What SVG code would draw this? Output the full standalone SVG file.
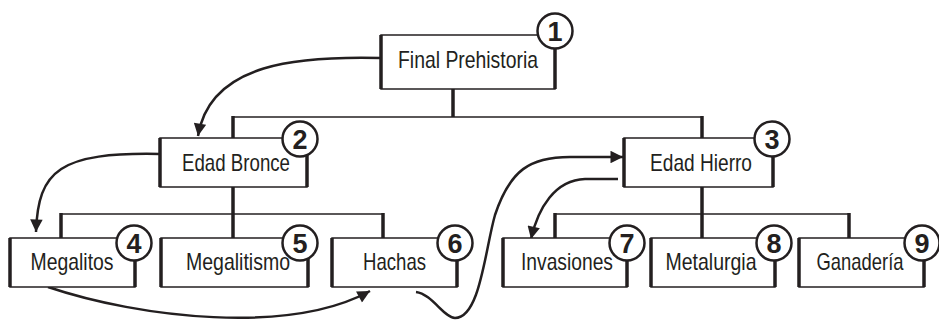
<svg xmlns="http://www.w3.org/2000/svg" width="939" height="320" viewBox="0 0 939 320">
<defs>
<style>
.box{fill:#fff;stroke:#231f20;stroke-width:1.5}
.side{stroke:#231f20;stroke-width:3.5}
.lbl{font-family:"Liberation Sans",Arial,sans-serif;font-size:24px;fill:#231f20;text-anchor:middle}
.num{font-family:"Liberation Sans",Arial,sans-serif;font-size:27px;font-weight:bold;fill:#231f20;text-anchor:middle}
.circ{fill:#fff;stroke:#231f20;stroke-width:2.5}
.v{stroke:#231f20;stroke-width:3.5;fill:none}
.h{stroke:#231f20;stroke-width:1.5;fill:none}
.arr{stroke:#231f20;stroke-width:2.5;fill:none;marker-end:url(#ah)}
</style>
<marker id="ah" viewBox="0 0 10 10" refX="10" refY="5" markerWidth="5.5" markerHeight="5" markerUnits="strokeWidth" orient="auto">
<path d="M0,0 L10,5 L0,10 Z" fill="#231f20"/>
</marker>
</defs>
<g id="connectors">
<line class="v" x1="453" y1="89" x2="453" y2="117"/>
<line class="h" x1="232" y1="117" x2="703" y2="117"/>
<line class="v" x1="233" y1="116" x2="233" y2="138"/>
<line class="v" x1="702" y1="116" x2="702" y2="138"/>
<line class="v" x1="233" y1="187" x2="233" y2="238"/>
<line class="h" x1="60" y1="214" x2="384" y2="214"/>
<line class="v" x1="61" y1="213" x2="61" y2="238"/>
<line class="v" x1="383" y1="213" x2="383" y2="238"/>
<line class="v" x1="702" y1="187" x2="702" y2="238"/>
<line class="h" x1="554" y1="214" x2="850" y2="214"/>
<line class="v" x1="555" y1="213" x2="555" y2="238"/>
<line class="v" x1="849" y1="213" x2="849" y2="238"/>
<path class="arr" d="M381,58 C300,56 210,62 198,136"/>
<path class="arr" d="M160,154 C60,152 38,170 36,232"/>
<path class="arr" d="M48,287 C140,318 290,335 370,291"/>
<path class="arr" d="M416,292 C432,294 444,318 455,318 C480,318 485,250 495,215 C510,170 530,157 570,157 L623,157"/>
<path class="arr" d="M618,179 L585,179 C555,180 538,208 531,239"/>
</g>
<g id="n1">
<rect class="box" x="381" y="35" width="174" height="54"/>
<line class="side" x1="381" y1="35" x2="381" y2="89"/>
<line class="side" x1="555" y1="35" x2="555" y2="89"/>
<text class="lbl" x="468" y="68" textLength="140" lengthAdjust="spacingAndGlyphs">Final Prehistoria</text>
<circle class="circ" cx="555" cy="31" r="17.5"/>
<text class="num" x="555" y="40.5">1</text>
</g>
<g id="n2">
<rect class="box" x="160" y="138" width="147" height="49"/>
<line class="side" x1="160" y1="138" x2="160" y2="187"/>
<line class="side" x1="307" y1="138" x2="307" y2="187"/>
<text class="lbl" x="236" y="171" textLength="108" lengthAdjust="spacingAndGlyphs">Edad Bronce</text>
<circle class="circ" cx="300" cy="139" r="17.5"/>
<text class="num" x="300" y="148.5">2</text>
</g>
<g id="n3">
<rect class="box" x="624" y="138" width="149" height="49"/>
<line class="side" x1="624" y1="138" x2="624" y2="187"/>
<line class="side" x1="773" y1="138" x2="773" y2="187"/>
<text class="lbl" x="701" y="171" textLength="102" lengthAdjust="spacingAndGlyphs">Edad Hierro</text>
<circle class="circ" cx="772" cy="139" r="17.5"/>
<text class="num" x="772" y="148.5">3</text>
</g>
<g id="n4">
<rect class="box" x="10" y="238" width="125" height="49"/>
<line class="side" x1="10" y1="238" x2="10" y2="287"/>
<line class="side" x1="135" y1="238" x2="135" y2="287"/>
<text class="lbl" x="72" y="270" textLength="83" lengthAdjust="spacingAndGlyphs">Megalitos</text>
<circle class="circ" cx="134" cy="243" r="17.5"/>
<text class="num" x="134" y="252.5">4</text>
</g>
<g id="n5">
<rect class="box" x="161" y="238" width="147" height="49"/>
<line class="side" x1="161" y1="238" x2="161" y2="287"/>
<line class="side" x1="308" y1="238" x2="308" y2="287"/>
<text class="lbl" x="238" y="270" textLength="104" lengthAdjust="spacingAndGlyphs">Megalitismo</text>
<circle class="circ" cx="300" cy="243" r="17.5"/>
<text class="num" x="300" y="252.5">5</text>
</g>
<g id="n6">
<rect class="box" x="332" y="238" width="125" height="49"/>
<line class="side" x1="332" y1="238" x2="332" y2="287"/>
<line class="side" x1="457" y1="238" x2="457" y2="287"/>
<text class="lbl" x="394.5" y="270" textLength="63" lengthAdjust="spacingAndGlyphs">Hachas</text>
<circle class="circ" cx="455" cy="243" r="17.5"/>
<text class="num" x="455" y="252.5">6</text>
</g>
<g id="n7">
<rect class="box" x="503" y="238" width="124" height="49"/>
<line class="side" x1="503" y1="238" x2="503" y2="287"/>
<line class="side" x1="627" y1="238" x2="627" y2="287"/>
<text class="lbl" x="567" y="270" textLength="92" lengthAdjust="spacingAndGlyphs">Invasiones</text>
<circle class="circ" cx="627" cy="243" r="17.5"/>
<text class="num" x="627" y="252.5">7</text>
</g>
<g id="n8">
<rect class="box" x="651" y="238" width="124" height="49"/>
<line class="side" x1="651" y1="238" x2="651" y2="287"/>
<line class="side" x1="775" y1="238" x2="775" y2="287"/>
<text class="lbl" x="711" y="270" textLength="91" lengthAdjust="spacingAndGlyphs">Metalurgia</text>
<circle class="circ" cx="774" cy="243" r="17.5"/>
<text class="num" x="774" y="252.5">8</text>
</g>
<g id="n9">
<rect class="box" x="799" y="238" width="125" height="49"/>
<line class="side" x1="799" y1="238" x2="799" y2="287"/>
<line class="side" x1="924" y1="238" x2="924" y2="287"/>
<text class="lbl" x="860" y="270" textLength="87" lengthAdjust="spacingAndGlyphs">Ganadería</text>
<circle class="circ" cx="922" cy="243" r="17.5"/>
<text class="num" x="922" y="252.5">9</text>
</g>
</svg>
